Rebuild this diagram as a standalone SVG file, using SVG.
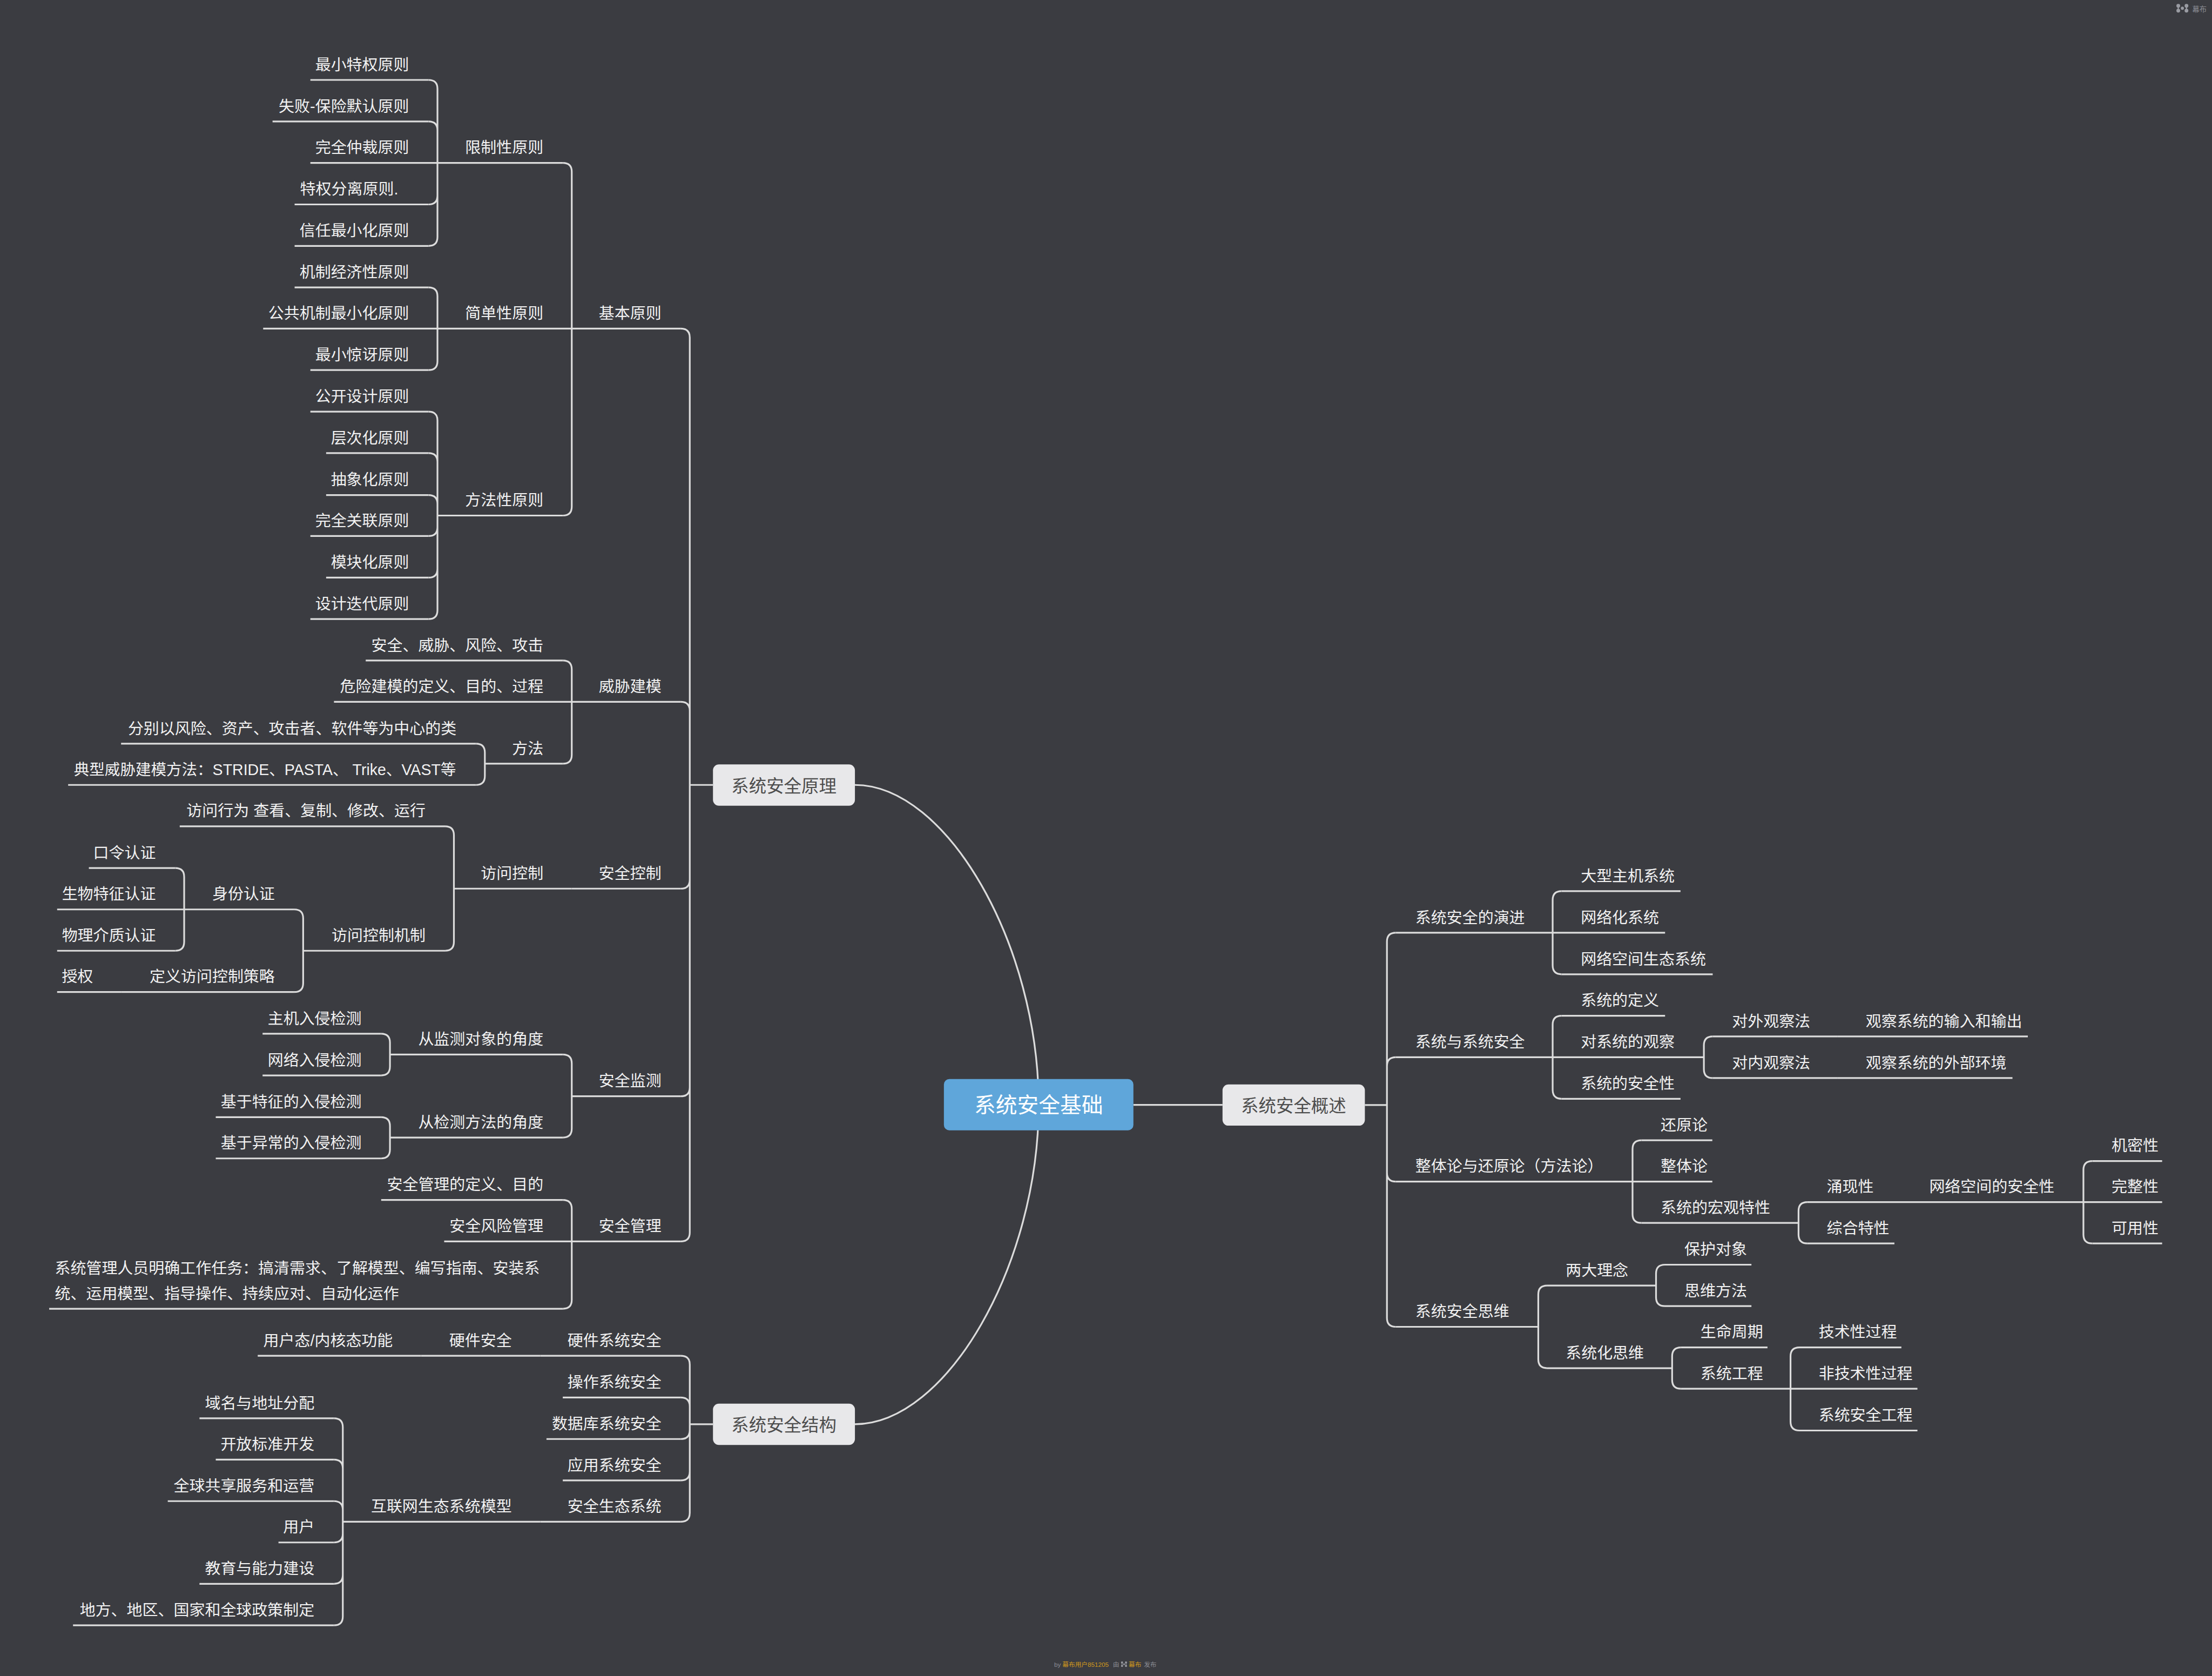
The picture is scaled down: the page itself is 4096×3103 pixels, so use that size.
<svg xmlns="http://www.w3.org/2000/svg" width="4096" height="3103" viewBox="0 0 4096 3103">
<style>
.l{stroke:#dcdcdc;stroke-width:3.5;fill:none}
.t{font-family:'Liberation Sans','Noto Sans CJK SC',sans-serif;font-size:31.7px;fill:#f2f2f2}
.e{text-anchor:end}
.bx{fill:#e8e8ea}
.bt{font-family:'Liberation Sans','Noto Sans CJK SC',sans-serif;font-size:35.5px;fill:#4d4d4d;text-anchor:middle}
.rt{font-family:'Liberation Sans','Noto Sans CJK SC',sans-serif;font-size:43.5px;fill:#ffffff;text-anchor:middle}
.ft{font-family:'Liberation Sans','Noto Sans CJK SC',sans-serif;fill:#8b8d94}
.or{fill:#d39a1c}
.ic{fill:#9a9ca3;stroke:#9a9ca3}
</style>
<rect width="4096" height="3103" fill="#3b3c41"/>
<g transform="scale(0.9142857)">
<g id="connectors">
<path class="l" d="M2103.6 2237 C2103.6 1913 1917.5 1589.5 1731.4 1589.5"/>
<path class="l" d="M2103.6 2237 C2103.6 2560.5 1917.5 2884 1731.4 2884"/>
<path class="l" d="M2295.5 2237.5 L2476 2237.5"/>
<path class="l" d="M1397 1589.5 H1444 M1397 2884 H1444 M2764.3 2237.7 H2809"/>
<path class="l" d="M1379 665.5 Q1397 665.5 1397 683.5 L1397 1589.5 M1379 1421.2 Q1397 1421.2 1397 1439.2 L1397 1589.5 M1379 1799.5 Q1397 1799.5 1397 1781.5 L1397 1589.5 M1379 2220 Q1397 2220 1397 2202 L1397 1589.5 M1379 2513.8 Q1397 2513.8 1397 2495.8 L1397 1589.5"/>
<path class="l" d="M1140 330 Q1158 330 1158 348 L1158 665.5 M1140 1044 Q1158 1044 1158 1026 L1158 665.5"/>
<path class="l" d="M868 161.9 Q886 161.9 886 179.9 L886 330 M868 246 Q886 246 886 264 L886 330 M868 414 Q886 414 886 396 L886 330 M868 498 Q886 498 886 480 L886 330"/>
<path class="l" d="M868 582 Q886 582 886 600 L886 665.5 M868 749.4 Q886 749.4 886 731.4 L886 665.5"/>
<path class="l" d="M868 833.6 Q886 833.6 886 851.6 L886 1044 M868 917.5 Q886 917.5 886 935.5 L886 1044 M868 1002.5 Q886 1002.5 886 1020.5 L886 1044 M868 1085.5 Q886 1085.5 886 1067.5 L886 1044 M868 1169.7 Q886 1169.7 886 1151.7 L886 1044 M868 1253.6 Q886 1253.6 886 1235.6 L886 1044"/>
<path class="l" d="M1140 1337.5 Q1158 1337.5 1158 1355.5 L1158 1421.2 M1140 1546.5 Q1158 1546.5 1158 1528.5 L1158 1421.2"/>
<path class="l" d="M964 1505.9 Q982 1505.9 982 1523.9 L982 1546.5 M964 1589.5 Q982 1589.5 982 1571.5 L982 1546.5"/>
<path class="l" d="M901.3 1673.2 Q919.3 1673.2 919.3 1691.2 L919.3 1799.5 M901.3 1925.3 Q919.3 1925.3 919.3 1907.3 L919.3 1799.5"/>
<path class="l" d="M596 1841.6 Q614 1841.6 614 1859.6 L614 1925.3 M596 2008.8 Q614 2008.8 614 1990.8 L614 1925.3"/>
<path class="l" d="M355 1757.9 Q373 1757.9 373 1775.9 L373 1841.6 M355 1925.3 Q373 1925.3 373 1907.3 L373 1841.6"/>
<path class="l" d="M1140 2135.5 Q1158 2135.5 1158 2153.5 L1158 2220 M1140 2303.5 Q1158 2303.5 1158 2285.5 L1158 2220"/>
<path class="l" d="M771.8 2093.3 Q789.8 2093.3 789.8 2111.3 L789.8 2135.5 M771.8 2177.7 Q789.8 2177.7 789.8 2159.7 L789.8 2135.5"/>
<path class="l" d="M771.8 2262.2 Q789.8 2262.2 789.8 2280.2 L789.8 2303.5 M771.8 2345.8 Q789.8 2345.8 789.8 2327.8 L789.8 2303.5"/>
<path class="l" d="M1140 2429.8 Q1158 2429.8 1158 2447.8 L1158 2513.8 M1140 2650.2 Q1158 2650.2 1158 2632.2 L1158 2513.8"/>
<path class="l" d="M1379 2745.4 Q1397 2745.4 1397 2763.4 L1397 2884 M1379 2830 Q1397 2830 1397 2848 L1397 2884 M1379 2914 Q1397 2914 1397 2896 L1397 2884 M1379 2997.8 Q1397 2997.8 1397 2979.8 L1397 2884 M1379 3081.5 Q1397 3081.5 1397 3063.5 L1397 2884"/>
<path class="l" d="M676.3 2872 Q694.3 2872 694.3 2890 L694.3 3081.5 M676.3 2955.7 Q694.3 2955.7 694.3 2973.7 L694.3 3081.5 M676.3 3039.8 Q694.3 3039.8 694.3 3057.8 L694.3 3081.5 M676.3 3123.5 Q694.3 3123.5 694.3 3105.5 L694.3 3081.5 M676.3 3207.2 Q694.3 3207.2 694.3 3189.2 L694.3 3081.5 M676.3 3291.3 Q694.3 3291.3 694.3 3273.3 L694.3 3081.5"/>
<path class="l" d="M2827 1888.7 Q2809 1888.7 2809 1906.7 L2809 2237.7 M2827 2140.9 Q2809 2140.9 2809 2158.9 L2809 2237.7 M2827 2392.7 Q2809 2392.7 2809 2374.7 L2809 2237.7 M2827 2686.8 Q2809 2686.8 2809 2668.8 L2809 2237.7"/>
<path class="l" d="M3162.6 1804.5 Q3144.6 1804.5 3144.6 1822.5 L3144.6 1888.7 M3162.6 1972.9 Q3144.6 1972.9 3144.6 1954.9 L3144.6 1888.7"/>
<path class="l" d="M3162.6 2057 Q3144.6 2057 3144.6 2075 L3144.6 2140.9 M3162.6 2225 Q3144.6 2225 3144.6 2207 L3144.6 2140.9"/>
<path class="l" d="M3468.9 2098.8 Q3450.9 2098.8 3450.9 2116.8 L3450.9 2140.9 M3468.9 2183 Q3450.9 2183 3450.9 2165 L3450.9 2140.9"/>
<path class="l" d="M3324.4 2309 Q3306.4 2309 3306.4 2327 L3306.4 2392.7 M3324.4 2476.4 Q3306.4 2476.4 3306.4 2458.4 L3306.4 2392.7"/>
<path class="l" d="M3660.6 2434.3 Q3642.6 2434.3 3642.6 2452.3 L3642.6 2476.4 M3660.6 2518 Q3642.6 2518 3642.6 2500 L3642.6 2476.4"/>
<path class="l" d="M4237.6 2351.1 Q4219.6 2351.1 4219.6 2369.1 L4219.6 2434.3 M4237.6 2518 Q4219.6 2518 4219.6 2500 L4219.6 2434.3"/>
<path class="l" d="M3133.5 2603.2 Q3115.5 2603.2 3115.5 2621.2 L3115.5 2686.8 M3133.5 2770.5 Q3115.5 2770.5 3115.5 2752.5 L3115.5 2686.8"/>
<path class="l" d="M3372 2561 Q3354 2561 3354 2579 L3354 2603.2 M3372 2644.8 Q3354 2644.8 3354 2626.8 L3354 2603.2"/>
<path class="l" d="M3404.6 2728.5 Q3386.6 2728.5 3386.6 2746.5 L3386.6 2770.5 M3404.6 2812.2 Q3386.6 2812.2 3386.6 2794.2 L3386.6 2770.5"/>
<path class="l" d="M3644.4 2728.5 Q3626.4 2728.5 3626.4 2746.5 L3626.4 2812.2 M3644.4 2896.8 Q3626.4 2896.8 3626.4 2878.8 L3626.4 2812.2"/>
</g>

<g id="root"><rect x="1911.7" y="2185" width="383.8" height="104" rx="11" fill="#5fa6da"/><text class="rt" x="2103.6" y="2253">系统安全基础</text></g>
<g id="n-yuanli"><rect class="bx" x="1444" y="1548" width="287.5" height="83.5" rx="12"/><text class="bt" x="1587.7" y="1604">系统安全原理</text></g>
<g id="n-jiegou"><rect class="bx" x="1444" y="2842.5" width="287.5" height="83.5" rx="12"/><text class="bt" x="1587.7" y="2898.5">系统安全结构</text></g>
<g id="n-gaishu"><rect class="bx" x="2476" y="2196" width="288.3" height="83.5" rx="12"/><text class="bt" x="2620" y="2252.5">系统安全概述</text></g>

<g id="n-jbyz"><line class="l" x1="1158" y1="665.5" x2="1379" y2="665.5"/><text class="t e" x="1339.5" y="645.5">基本原则</text></g>
<g id="n-wxjm"><line class="l" x1="1158" y1="1421.2" x2="1379" y2="1421.2"/><text class="t e" x="1339.5" y="1401.2">威胁建模</text></g>
<g id="n-aqkz"><line class="l" x1="1158" y1="1799.5" x2="1379" y2="1799.5"/><text class="t e" x="1339.5" y="1779.5">安全控制</text></g>
<g id="n-aqjc"><line class="l" x1="1158" y1="2220" x2="1379" y2="2220"/><text class="t e" x="1339.5" y="2200">安全监测</text></g>
<g id="n-aqgl"><line class="l" x1="1158" y1="2513.8" x2="1379" y2="2513.8"/><text class="t e" x="1339.5" y="2493.8">安全管理</text></g>

<g id="n-xzx"><line class="l" x1="886" y1="330" x2="1140" y2="330"/><text class="t e" x="1100.5" y="310">限制性原则</text></g>
<g id="n-jdx"><line class="l" x1="886" y1="665.5" x2="1158" y2="665.5"/><text class="t e" x="1100.5" y="645.5">简单性原则</text></g>
<g id="n-ffx"><line class="l" x1="886" y1="1044" x2="1140" y2="1044"/><text class="t e" x="1100.5" y="1024">方法性原则</text></g>

<g id="n-p1"><line class="l" x1="628.6" y1="161.9" x2="868" y2="161.9"/><text class="t e" x="828.5" y="141.9">最小特权原则</text></g>
<g id="n-p2"><line class="l" x1="552" y1="246" x2="868" y2="246"/><text class="t e" x="828.5" y="226">失败-保险默认原则</text></g>
<g id="n-p3"><line class="l" x1="628.6" y1="330" x2="886" y2="330"/><text class="t e" x="828.5" y="310">完全仲裁原则</text></g>
<g id="n-p4"><line class="l" x1="596.7" y1="414" x2="868" y2="414"/><text class="t" x="607.7" y="394">特权分离原则.</text></g>
<g id="n-p5"><line class="l" x1="596.7" y1="498" x2="868" y2="498"/><text class="t e" x="828.5" y="478">信任最小化原则</text></g>
<g id="n-p6"><line class="l" x1="596.7" y1="582" x2="868" y2="582"/><text class="t e" x="828.5" y="562">机制经济性原则</text></g>
<g id="n-p7"><line class="l" x1="533" y1="665.5" x2="886" y2="665.5"/><text class="t e" x="828.5" y="645.5">公共机制最小化原则</text></g>
<g id="n-p8"><line class="l" x1="628.6" y1="749.4" x2="868" y2="749.4"/><text class="t e" x="828.5" y="729.4">最小惊讶原则</text></g>
<g id="n-p9"><line class="l" x1="628.6" y1="833.6" x2="868" y2="833.6"/><text class="t e" x="828.5" y="813.6">公开设计原则</text></g>
<g id="n-p10"><line class="l" x1="660.5" y1="917.5" x2="868" y2="917.5"/><text class="t e" x="828.5" y="897.5">层次化原则</text></g>
<g id="n-p11"><line class="l" x1="660.5" y1="1002.5" x2="868" y2="1002.5"/><text class="t e" x="828.5" y="982.5">抽象化原则</text></g>
<g id="n-p12"><line class="l" x1="628.6" y1="1085.5" x2="868" y2="1085.5"/><text class="t e" x="828.5" y="1065.5">完全关联原则</text></g>
<g id="n-p13"><line class="l" x1="660.5" y1="1169.7" x2="868" y2="1169.7"/><text class="t e" x="828.5" y="1149.7">模块化原则</text></g>
<g id="n-p14"><line class="l" x1="628.6" y1="1253.6" x2="868" y2="1253.6"/><text class="t e" x="828.5" y="1233.6">设计迭代原则</text></g>

<g id="n-w1"><line class="l" x1="740.7" y1="1337.5" x2="1140" y2="1337.5"/><text class="t e" x="1100.5" y="1317.5">安全、威胁、风险、攻击</text></g>
<g id="n-w2"><line class="l" x1="676.4" y1="1421.2" x2="1158" y2="1421.2"/><text class="t e" x="1100.5" y="1401.2">危险建模的定义、目的、过程</text></g>
<g id="n-w3"><line class="l" x1="982" y1="1546.5" x2="1140" y2="1546.5"/><text class="t e" x="1100.5" y="1526.5">方法</text></g>
<g id="n-w31"><line class="l" x1="245.2" y1="1505.9" x2="964" y2="1505.9"/><text class="t e" x="924.5" y="1485.9">分别以风险、资产、攻击者、软件等为中心的类</text></g>
<g id="n-w32"><line class="l" x1="138" y1="1589.5" x2="964" y2="1589.5"/><text class="t" x="149.6" y="1569.5" textLength="774" lengthAdjust="spacingAndGlyphs">典型威胁建模方法：STRIDE、PASTA、 Trike、VAST等</text></g>

<g id="n-fwkz"><line class="l" x1="919.3" y1="1799.5" x2="1158" y2="1799.5"/><text class="t e" x="1100.5" y="1779.5">访问控制</text></g>
<g id="n-fwxw"><line class="l" x1="364" y1="1673.2" x2="901.3" y2="1673.2"/><text class="t e" x="861.8" y="1653.2">访问行为 查看、复制、修改、运行</text></g>
<g id="n-fwjz"><line class="l" x1="614" y1="1925.3" x2="901.3" y2="1925.3"/><text class="t e" x="861.8" y="1905.3">访问控制机制</text></g>
<g id="n-sfrz"><line class="l" x1="373" y1="1841.6" x2="596" y2="1841.6"/><text class="t e" x="556.5" y="1821.6">身份认证</text></g>
<g id="n-dyfw"><line class="l" x1="246" y1="2008.8" x2="596" y2="2008.8"/><text class="t e" x="556.5" y="1988.8">定义访问控制策略</text></g>
<g id="n-klrz"><line class="l" x1="180" y1="1757.9" x2="355" y2="1757.9"/><text class="t e" x="315.5" y="1737.9">口令认证</text></g>
<g id="n-swrz"><line class="l" x1="115.7" y1="1841.6" x2="373" y2="1841.6"/><text class="t e" x="315.5" y="1821.6">生物特征认证</text></g>
<g id="n-wlrz"><line class="l" x1="115.7" y1="1925.3" x2="355" y2="1925.3"/><text class="t e" x="315.5" y="1905.3">物理介质认证</text></g>
<g id="n-sq"><line class="l" x1="115.7" y1="2008.8" x2="246" y2="2008.8"/><text class="t e" x="188.5" y="1988.8">授权</text></g>

<g id="n-jcdx"><line class="l" x1="789.8" y1="2135.5" x2="1140" y2="2135.5"/><text class="t e" x="1100.5" y="2115.5">从监测对象的角度</text></g>
<g id="n-jcff"><line class="l" x1="789.8" y1="2303.5" x2="1140" y2="2303.5"/><text class="t e" x="1100.5" y="2283.5">从检测方法的角度</text></g>
<g id="n-zj"><line class="l" x1="531.8" y1="2093.3" x2="771.8" y2="2093.3"/><text class="t e" x="732.3" y="2073.3">主机入侵检测</text></g>
<g id="n-wl"><line class="l" x1="531.8" y1="2177.7" x2="771.8" y2="2177.7"/><text class="t e" x="732.3" y="2157.7">网络入侵检测</text></g>
<g id="n-tz"><line class="l" x1="437" y1="2262.2" x2="771.8" y2="2262.2"/><text class="t e" x="732.3" y="2242.2">基于特征的入侵检测</text></g>
<g id="n-yc"><line class="l" x1="437" y1="2345.8" x2="771.8" y2="2345.8"/><text class="t e" x="732.3" y="2325.8">基于异常的入侵检测</text></g>

<g id="n-gldy"><line class="l" x1="772" y1="2429.8" x2="1140" y2="2429.8"/><text class="t e" x="1100.5" y="2409.8">安全管理的定义、目的</text></g>
<g id="n-fxgl"><line class="l" x1="899.6" y1="2513.8" x2="1158" y2="2513.8"/><text class="t e" x="1100.5" y="2493.8">安全风险管理</text></g>
<g id="n-xtgl"><line class="l" x1="99.6" y1="2650.2" x2="1140" y2="2650.2"/><text class="t"><tspan x="111" y="2579.5">系统管理人员明确工作任务：搞清需求、了解模型、编写指南、安装系</tspan><tspan x="111" y="2630.5">统、运用模型、指导操作、持续应对、自动化运作</tspan></text></g>

<g id="n-yjxt"><line class="l" x1="1094" y1="2745.4" x2="1379" y2="2745.4"/><text class="t e" x="1339.5" y="2725.4">硬件系统安全</text></g>
<g id="n-czxt"><line class="l" x1="1139.8" y1="2830" x2="1379" y2="2830"/><text class="t e" x="1339.5" y="2810">操作系统安全</text></g>
<g id="n-sjk"><line class="l" x1="1106.8" y1="2914" x2="1379" y2="2914"/><text class="t e" x="1339.5" y="2894">数据库系统安全</text></g>
<g id="n-yy"><line class="l" x1="1139.8" y1="2997.8" x2="1379" y2="2997.8"/><text class="t e" x="1339.5" y="2977.8">应用系统安全</text></g>
<g id="n-stxt"><line class="l" x1="1094" y1="3081.5" x2="1379" y2="3081.5"/><text class="t e" x="1339.5" y="3061.5">安全生态系统</text></g>
<g id="n-yjaq"><line class="l" x1="852.5" y1="2745.4" x2="1094" y2="2745.4"/><text class="t e" x="1036.5" y="2725.4">硬件安全</text></g>
<g id="n-yhnh"><line class="l" x1="522" y1="2745.4" x2="852.5" y2="2745.4"/><text class="t e" x="795.5" y="2725.4">用户态/内核态功能</text></g>
<g id="n-hlw"><line class="l" x1="694.3" y1="3081.5" x2="1094" y2="3081.5"/><text class="t e" x="1036.5" y="3061.5">互联网生态系统模型</text></g>
<g id="n-s1"><line class="l" x1="404" y1="2872" x2="676.3" y2="2872"/><text class="t e" x="636.8" y="2852">域名与地址分配</text></g>
<g id="n-s2"><line class="l" x1="437" y1="2955.7" x2="676.3" y2="2955.7"/><text class="t e" x="636.8" y="2935.7">开放标准开发</text></g>
<g id="n-s3"><line class="l" x1="339.8" y1="3039.8" x2="676.3" y2="3039.8"/><text class="t e" x="636.8" y="3019.8">全球共享服务和运营</text></g>
<g id="n-s4"><line class="l" x1="564" y1="3123.5" x2="676.3" y2="3123.5"/><text class="t e" x="636.8" y="3103.5">用户</text></g>
<g id="n-s5"><line class="l" x1="404" y1="3207.2" x2="676.3" y2="3207.2"/><text class="t e" x="636.8" y="3187.2">教育与能力建设</text></g>
<g id="n-s6"><line class="l" x1="147.9" y1="3291.3" x2="676.3" y2="3291.3"/><text class="t e" x="636.8" y="3271.3">地方、地区、国家和全球政策制定</text></g>

<g id="n-yj"><line class="l" x1="2827" y1="1888.7" x2="3144.6" y2="1888.7"/><text class="t" x="2866.5" y="1868.7">系统安全的演进</text></g>
<g id="n-xtyaq"><line class="l" x1="2827" y1="2140.9" x2="3144.6" y2="2140.9"/><text class="t" x="2866.5" y="2120.9">系统与系统安全</text></g>
<g id="n-ztl"><line class="l" x1="2827" y1="2392.7" x2="3306.4" y2="2392.7"/><text class="t" x="2866.5" y="2372.7">整体论与还原论（方法论）</text></g>
<g id="n-swei"><line class="l" x1="2827" y1="2686.8" x2="3115.5" y2="2686.8"/><text class="t" x="2866.5" y="2666.8">系统安全思维</text></g>

<g id="n-dx"><line class="l" x1="3162.6" y1="1804.5" x2="3403.6" y2="1804.5"/><text class="t" x="3201.6" y="1784.5">大型主机系统</text></g>
<g id="n-wlh"><line class="l" x1="3144.6" y1="1888.7" x2="3372.3" y2="1888.7"/><text class="t" x="3201.6" y="1868.7">网络化系统</text></g>
<g id="n-wlkj"><line class="l" x1="3162.6" y1="1972.9" x2="3468.75" y2="1972.9"/><text class="t" x="3201.6" y="1952.9">网络空间生态系统</text></g>
<g id="n-xtdy"><line class="l" x1="3162.6" y1="2057" x2="3372.3" y2="2057"/><text class="t" x="3201.6" y="2037">系统的定义</text></g>
<g id="n-gc"><line class="l" x1="3144.6" y1="2140.9" x2="3450.9" y2="2140.9"/><text class="t" x="3201.6" y="2120.9">对系统的观察</text></g>
<g id="n-aqx"><line class="l" x1="3162.6" y1="2225" x2="3403.6" y2="2225"/><text class="t" x="3201.6" y="2205">系统的安全性</text></g>
<g id="n-dw"><line class="l" x1="3468.9" y1="2098.8" x2="3721" y2="2098.8"/><text class="t" x="3507.9" y="2078.8">对外观察法</text></g>
<g id="n-dn"><line class="l" x1="3468.9" y1="2183" x2="3721" y2="2183"/><text class="t" x="3507.9" y="2163">对内观察法</text></g>
<g id="n-srsc"><line class="l" x1="3721" y1="2098.8" x2="4107" y2="2098.8"/><text class="t" x="3778.6" y="2078.8">观察系统的输入和输出</text></g>
<g id="n-wbhj"><line class="l" x1="3721" y1="2183" x2="4075.9" y2="2183"/><text class="t" x="3778.6" y="2163">观察系统的外部环境</text></g>

<g id="n-hyl"><line class="l" x1="3324.4" y1="2309" x2="3468" y2="2309"/><text class="t" x="3363.4" y="2289">还原论</text></g>
<g id="n-ztl2"><line class="l" x1="3306.4" y1="2392.7" x2="3468" y2="2392.7"/><text class="t" x="3363.4" y="2372.7">整体论</text></g>
<g id="n-hg"><line class="l" x1="3324.4" y1="2476.4" x2="3642.6" y2="2476.4"/><text class="t" x="3363.4" y="2456.4">系统的宏观特性</text></g>
<g id="n-yx"><line class="l" x1="3660.6" y1="2434.3" x2="3850" y2="2434.3"/><text class="t" x="3699.6" y="2414.3">涌现性</text></g>
<g id="n-zh"><line class="l" x1="3660.6" y1="2518" x2="3836.8" y2="2518"/><text class="t" x="3699.6" y="2498">综合特性</text></g>
<g id="n-wlaq"><line class="l" x1="3850" y1="2434.3" x2="4219.6" y2="2434.3"/><text class="t" x="3907.3" y="2414.3">网络空间的安全性</text></g>
<g id="n-jm"><line class="l" x1="4237.6" y1="2351.1" x2="4379" y2="2351.1"/><text class="t" x="4276.6" y="2331.1">机密性</text></g>
<g id="n-wz"><line class="l" x1="4219.6" y1="2434.3" x2="4379" y2="2434.3"/><text class="t" x="4276.6" y="2414.3">完整性</text></g>
<g id="n-ky"><line class="l" x1="4237.6" y1="2518" x2="4379" y2="2518"/><text class="t" x="4276.6" y="2498">可用性</text></g>

<g id="n-ldln"><line class="l" x1="3133.5" y1="2603.2" x2="3354" y2="2603.2"/><text class="t" x="3171" y="2583.2">两大理念</text></g>
<g id="n-xth"><line class="l" x1="3133.5" y1="2770.5" x2="3386.6" y2="2770.5"/><text class="t" x="3171" y="2750.5">系统化思维</text></g>
<g id="n-bh"><line class="l" x1="3372" y1="2561" x2="3547.2" y2="2561"/><text class="t" x="3411.5" y="2541">保护对象</text></g>
<g id="n-swff"><line class="l" x1="3372" y1="2644.8" x2="3547.2" y2="2644.8"/><text class="t" x="3411.5" y="2624.8">思维方法</text></g>
<g id="n-smzq"><line class="l" x1="3404.6" y1="2728.5" x2="3579.7" y2="2728.5"/><text class="t" x="3444" y="2708.5">生命周期</text></g>
<g id="n-xtgc"><line class="l" x1="3404.6" y1="2812.2" x2="3626.4" y2="2812.2"/><text class="t" x="3444" y="2792.2">系统工程</text></g>
<g id="n-js"><line class="l" x1="3644.4" y1="2728.5" x2="3850.9" y2="2728.5"/><text class="t" x="3683.4" y="2708.5">技术性过程</text></g>
<g id="n-fjs"><line class="l" x1="3626.4" y1="2812.2" x2="3883.4" y2="2812.2"/><text class="t" x="3683.4" y="2792.2">非技术性过程</text></g>
<g id="n-aqgc"><line class="l" x1="3644.4" y1="2896.8" x2="3883.4" y2="2896.8"/><text class="t" x="3683.4" y="2876.8">系统安全工程</text></g>

<g id="footer">
<text class="ft" y="3375.5" font-size="12.8"><tspan x="2135">by</tspan><tspan class="or" x="2151.7">幕布用户851205</tspan><tspan x="2254">由</tspan><tspan class="or" x="2286">幕布</tspan><tspan x="2316.7">发布</tspan></text>
<g class="ic" stroke-width="1.4"><line x1="2272.5" y1="3366.5" x2="2272.5" y2="3373.5"/><line x1="2280.5" y1="3366.5" x2="2280.5" y2="3373.5"/><circle cx="2272.5" cy="3366.5" r="1.4"/><circle cx="2272.5" cy="3373.5" r="1.4"/><circle cx="2280.5" cy="3366.5" r="1.4"/><circle cx="2280.5" cy="3373.5" r="1.4"/><circle cx="2276.5" cy="3370" r="1.1"/></g>
</g>
<g id="brand">
<g class="ic" stroke-width="2.4"><line x1="4411.7" y1="11.7" x2="4411.7" y2="21.7"/><line x1="4428.3" y1="11.7" x2="4428.3" y2="21.7"/><circle cx="4411.7" cy="11.7" r="2.6"/><circle cx="4411.7" cy="21.7" r="2.6"/><circle cx="4428.3" cy="11.7" r="2.6"/><circle cx="4428.3" cy="21.7" r="2.6"/><circle cx="4420" cy="16.7" r="2"/></g>
<text class="ft" x="4440" y="24" font-size="14.5">幕布</text>
</g>
</g>
</svg>
